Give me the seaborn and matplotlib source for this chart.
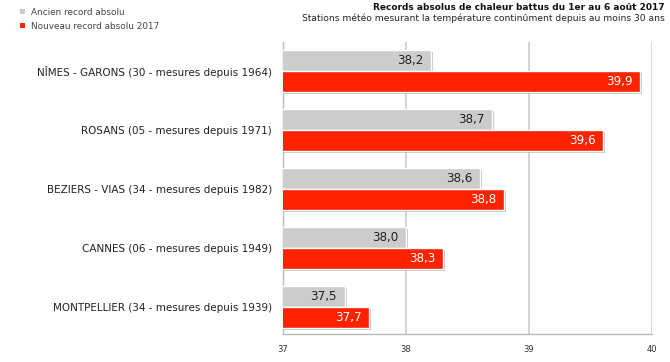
import pandas as pd
import matplotlib.pyplot as plt
import matplotlib.patheffects as pe
from matplotlib.patches import Patch
import seaborn as sns

stations = [
    "NÎMES - GARONS (30 - mesures depuis 1964)",
    "ROSANS (05 - mesures depuis 1971)",
    "BEZIERS - VIAS (34 - mesures depuis 1982)",
    "CANNES (06 - mesures depuis 1949)",
    "MONTPELLIER (34 - mesures depuis 1939)",
]
ancien = [38.2, 38.7, 38.6, 38.0, 37.5]
nouveau = [39.9, 39.6, 38.8, 38.3, 37.7]
series = ["Ancien record absolu", "Nouveau record absolu 2017"]
colors = {series[0]: "#cccccc", series[1]: "#ff2200"}

df = pd.DataFrame({
    "station": stations * 2,
    "valeur": ancien + nouveau,
    "serie": [series[0]] * 5 + [series[1]] * 5,
})

sns.set_style("white")
plt.rcParams['font.family'] = ['DejaVu Sans']

fig = plt.figure(figsize=(6.7, 3.62), dpi=100)
ax = fig.add_axes([283 / 670, 1 - 334 / 362, (652 - 283) / 670, (334 - 42) / 362])

sns.barplot(data=df, y="station", x="valeur", hue="serie", palette=colors,
            orient="h", width=0.71, ax=ax, legend=False, saturation=1)

# petite ombre portée sous les barres
shadow = [pe.SimplePatchShadow(offset=(1.5, -1.5), shadow_rgbFace="#888888", alpha=0.5), pe.Normal()]
for bar in ax.patches:
    bar.set_path_effects(shadow)
    bar.set_zorder(3)

ax.set_xlim(37, 40)
ax.set_ylim(4.46, -0.49)
ax.set_xticks([37, 38, 39, 40])
ax.set_xticklabels(["37", "38", "39", "40"], fontsize=6, color="#333333")
ax.tick_params(axis="y", labelsize=7.45, length=0, pad=8, labelcolor="#222222")
ax.tick_params(axis="x", length=0, pad=8)
ax.set_xlabel("")
ax.set_ylabel("")
ax.grid(axis="x", color="#cccccc", linewidth=1.2, zorder=0)
ax.set_axisbelow(True)
for s in ["top", "right"]:
    ax.spines[s].set_visible(False)
for s in ["left", "bottom"]:
    ax.spines[s].set_color("#bbbbbb")
    ax.spines[s].set_linewidth(1)

for cont, col in zip(ax.containers, ["#222222", "white"]):
    labels = [f"{v:.1f}".replace(".", ",") for v in cont.datavalues]
    ax.bar_label(cont, labels=labels, label_type="edge", padding=-24.5,
                 fontsize=8.6, color=col, zorder=5)

handles = [Patch(facecolor=colors[s], edgecolor="none") for s in series]
fig.legend(handles, series, loc="upper left", bbox_to_anchor=(0.018, 1.0), frameon=False,
           fontsize=6.4, handlelength=0.5, handleheight=0.5, handletextpad=0.7,
           labelspacing=0.55, labelcolor="#444444")

fig.text(0.992, 0.993, "Records absolus de chaleur battus du 1er au 6 août 2017",
         ha="right", va="top", fontsize=6.5, fontweight="bold", color="#111111")
fig.text(0.992, 0.963, "Stations météo mesurant la température continûment depuis au moins 30 ans",
         ha="right", va="top", fontsize=6.55, color="#222222")

fig.savefig("out.png", dpi=100)
